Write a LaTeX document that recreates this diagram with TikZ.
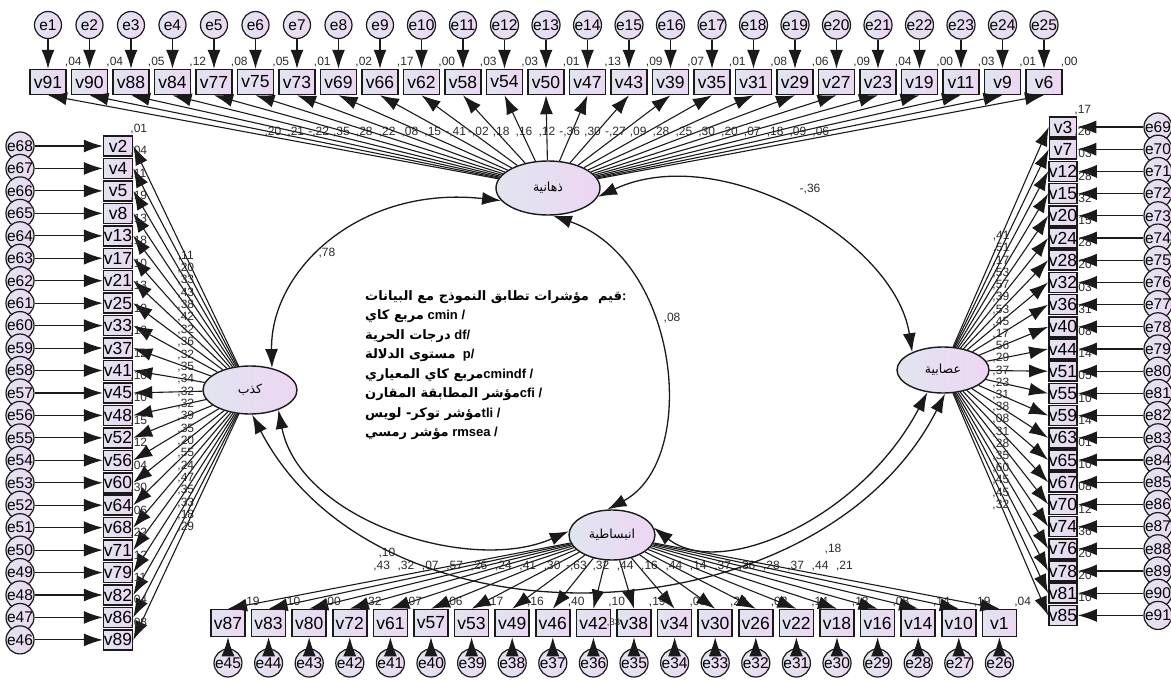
\documentclass[tikz,border=0pt]{standalone}
\usepackage{fontspec}
\setmainfont{Liberation Sans}
\newfontfamily\arabicfont[Script=Arabic]{DejaVu Sans}
\TeXXeTstate=1
\usetikzlibrary{arrows.meta,positioning,shapes.geometric,calc}
\definecolor{FillLeft}{HTML}{E1E5F0}
\definecolor{FillRight}{HTML}{EDD6F2}
\definecolor{LineDark}{HTML}{1A1A1A}
\definecolor{TextGray}{HTML}{2A2A2A}

\begin{document}
\begin{tikzpicture}[x=1pt,y=-1pt,
  errc/.style={circle,draw=LineDark,line width=1.2pt,minimum size=27pt,inner sep=0pt,left color=FillLeft,right color=FillRight,font=\fontsize{15.5}{15.5}\selectfont},
  obsv/.style={rectangle,draw=LineDark,line width=1.5pt,inner sep=0pt,left color=FillLeft,right color=FillRight,font=\fontsize{17.5}{17.5}\selectfont},
  topbox/.style={obsv,minimum width=36pt,minimum height=25pt},
  sidebox/.style={obsv,minimum width=29pt,minimum height=20pt},
  botbox/.style={obsv,minimum width=34pt,minimum height=27pt},
  latent/.style={ellipse,draw=LineDark,line width=1.4pt,inner sep=0pt,left color=FillLeft,right color=FillRight,font=\arabicfont\fontsize{12.5}{12.5}\selectfont},
  reg/.style={-{Latex[length=19pt,width=13pt]},line width=1.1pt,draw=LineDark},
  cov/.style={{Latex[length=19pt,width=13pt]}-{Latex[length=19pt,width=13pt]},line width=1.3pt,draw=LineDark},
  est/.style={font=\fontsize{12}{12}\selectfont,text=TextGray,inner sep=0pt},
  fitnote/.style={anchor=north west,align=left,inner sep=0pt,font=\fontsize{13}{19.5}\selectfont\bfseries}]
\useasboundingbox (0,0) rectangle (1171,680);

\node[latent,minimum width=104pt,minimum height=54pt] (T) at (548,188) {\beginR ذهانية\endR};
\node[latent,minimum width=94pt,minimum height=48pt] (L) at (250,390) {\beginR كذب\endR};
\node[latent,minimum width=92pt,minimum height=46pt] (N) at (943,370) {\beginR عصابية\endR};
\node[latent,minimum width=86pt,minimum height=50pt] (X) at (612,535) {\beginR انبساطية\endR};

\foreach \v/\e/\rsq/\w [count=\i from 0] in {91/1/{,04}/{,20},90/2/{,04}/{,21},88/3/{,05}/{-,22},84/4/{,12}/{,35},77/5/{,08}/{,28},75/6/{,05}/{,22},73/7/{,01}/{,08},69/8/{,02}/{,15},66/9/{,17}/{-,41},62/10/{,00}/{-,02},58/11/{,03}/{,18},54/12/{,03}/{,16},50/13/{,01}/{,12},47/14/{,13}/{-,36},43/15/{,09}/{,30},39/16/{,07}/{-,27},35/17/{,01}/{,09},31/18/{,08}/{,28},29/19/{,06}/{,25},27/20/{,09}/{,30},23/21/{,04}/{,20},19/22/{,00}/{,07},11/23/{,03}/{,18},9/24/{,01}/{,09},6/25/{,00}/{,06}}
{
  \node[topbox] (v\v) at ({48+41.5*\i},82) {v\v};
  \node[errc] (e\e) at ({48+41.5*\i},25) {e\e};
  \draw[reg] (e\e) -- (v\v);
  \draw[reg] (T) -- (v\v.south);
  \node[est,anchor=south west] at ([xshift=-2pt,yshift=2pt]v\v.north east) {\rsq};
  \node[est,anchor=south] at ($(T)!0.55!(v\v.south)$) {\w};
}

\foreach \v/\e/\rsq/\w [count=\i from 0] in {2/68/{,01}/{,11},4/67/{,04}/{,20},5/66/{,11}/{,33},8/65/{,19}/{,43},13/64/{,13}/{,38},17/63/{,18}/{,42},21/62/{,10}/{,32},25/61/{,13}/{,36},33/60/{,10}/{,32},37/59/{,12}/{,35},41/58/{,12}/{,34},45/57/{,10}/{,32},48/56/{,10}/{,32},52/55/{,15}/{,39},56/54/{,12}/{,35},60/53/{,04}/{,20},64/52/{,30}/{,55},68/51/{,06}/{,24},71/50/{,22}/{,47},79/49/{,12}/{,35},82/48/{,11}/{,33},86/47/{,04}/{,18},89/46/{,08}/{,29}}
{
  \node[sidebox] (v\v) at (118,{146+22.45*\i}) {v\v};
  \node[errc] (e\e) at (20,{146+22.45*\i}) {e\e};
  \draw[reg] (e\e) -- (v\v);
  \draw[reg] (L) -- (v\v.east);
  \node[est,anchor=south west] at ([xshift=-3pt,yshift=1pt]v\v.north east) {\rsq};
  \node[est] at ($(L)!0.55!(v\v.east)$) {\w};
}

\foreach \v/\e/\rsq/\w [count=\i from 0] in {3/69/{,17}/{,41},7/70/{,26}/{,51},12/71/{,03}/{,17},15/72/{,28}/{,53},20/73/{,32}/{,57},24/74/{,15}/{,39},28/75/{,28}/{,53},32/76/{,20}/{,45},36/77/{,03}/{,17},40/78/{,31}/{,56},44/79/{,08}/{,29},51/80/{,14}/{,37},55/81/{,05}/{,23},59/82/{,10}/{,31},63/83/{,14}/{,38},65/84/{,01}/{,08},67/85/{,10}/{,31},70/86/{,08}/{,28},74/87/{,12}/{,35},76/88/{,36}/{,60},78/89/{,20}/{,45},81/90/{,20}/{,45},85/91/{,10}/{,32}}
{
  \node[sidebox,minimum width=27pt] (v\v) at (1063,{127+22.2*\i}) {v\v};
  \node[errc] (e\e) at (1158,{127+22.2*\i}) {e\e};
  \draw[reg] (e\e) -- (v\v);
  \draw[reg] (N) -- (v\v.west);
  \node[est,anchor=south west] at ([xshift=-3pt,yshift=1pt]v\v.north east) {\rsq};
  \node[est] at ($(N)!0.55!(v\v.west)$) {\w};
}

\foreach \v/\e/\rsq/\w [count=\i from 0] in {87/45/{,19}/{,43},83/44/{,10}/{,32},80/43/{,00}/{,07},72/42/{,32}/{,57},61/41/{,07}/{,26},57/40/{,06}/{,24},53/39/{,17}/{,41},49/38/{,16}/{,30},46/37/{,40}/{-,63},42/36/{,10}/{,32},38/35/{,19}/{,44},34/34/{,03}/{,16},30/33/{,20}/{,44},26/32/{,02}/{,14},22/31/{,14}/{,37},18/30/{,13}/{,36},16/29/{,08}/{,28},14/28/{,14}/{,37},10/27/{,19}/{,44},1/26/{,04}/{,21}}
{
  \node[botbox] (v\v) at ({228+40.6*\i},623) {v\v};
  \node[errc] (e\e) at ({228+40.6*\i},663) {e\e};
  \draw[reg] (e\e) -- (v\v);
  \draw[reg] (X) -- (v\v.north);
  \node[est,anchor=south west] at ([xshift=-3pt,yshift=2pt]v\v.north east) {\rsq};
  \node[est,anchor=south,yshift=8pt] at ($(X)!0.6!(v\v.north)$) {\w};
}

\draw[cov] (T.195) .. controls (360,185) and (270,270) .. (L.45);
\draw[cov] (T.280) .. controls (680,260) and (700,460) .. (X.100);
\draw[cov] (T.350) .. controls (720,140) and (895,240) .. (N.150);
\draw[cov] (L.325) .. controls (300,520) and (470,575) .. (X.175);
\draw[cov] (L.275) .. controls (380,660) and (820,640) .. (N.275);
\draw[cov] (X.10) .. controls (720,580) and (860,520) .. (N.235);

\node[est] (c78) at (327,253) {,78};
\node[est] (c08) at (672,318) {,08};
\node[est] (c36) at (810,189) {-,36};
\node[est] (c10) at (387,553) {,10};
\node[est,font=\fontsize{9.5}{9.5}\selectfont] (c33) at (613.5,623) {,33};
\node[est] (c18) at (833,549) {,18};

\node[fitnote] (fit) at (365,290) {%
{\arabicfont\beginR قيم\ \ مؤشرات تطابق النموذج مع البيانات\endR}:\\
{\arabicfont\beginR مربع كاي\endR} cmin /\\
{\arabicfont\beginR درجات الحرية\endR} df/\\
{\arabicfont\beginR مستوى الدلالة\endR}\ \ p/\\
{\arabicfont\beginR مربع كاي المعياري\endR}cmindf /\\
{\arabicfont\beginR مؤشر المطابقة المقارن\endR}cfi /\\
{\arabicfont\beginR مؤشر توكر- لويس\endR}tli /\\
{\arabicfont\beginR مؤشر رمسي\endR} rmsea /};
\end{tikzpicture}
\end{document}
